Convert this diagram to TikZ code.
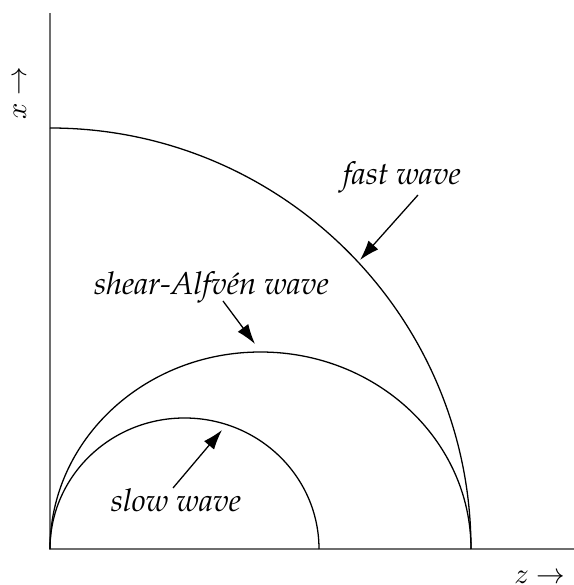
\documentclass[tikz,border=0pt]{standalone}
\usetikzlibrary{arrows.meta}
\definecolor{axisgray}{HTML}{6E6E6E}
\tikzset{axis/.style={draw=axisgray,line width=0.7pt}, wave/.style={draw=black,line width=0.45pt}, wavelbl/.style={font={\fontencoding{T1}\fontfamily{ppl}\fontshape{it}\fontsize{11}{13}\selectfont},inner sep=1pt}, axlbl/.style={font=\normalsize,inner sep=1pt}, arr/.style={-{Latex[length=7pt,width=4.6pt]},line width=0.45pt}}

\begin{document}
\begin{tikzpicture}[x=0.35pt,y=0.35pt]
\useasboundingbox (-50,-36) rectangle (524,549);
% axes
\coordinate (o) at (0,0);
\coordinate (zend) at (524,0);
\coordinate (xend) at (0,536);
\draw[axis] (xend) -- (o) -- (zend);
\node[axlbl] (zlbl) at (490,-28) {$z \rightarrow$};
\node[axlbl,rotate=90] (xlbl) at (-30,456) {$x \rightarrow$};
% wave curves
\draw[wave] (421,0) arc[start angle=0,end angle=90,radius=421];
\draw[wave] (421,0) arc[start angle=0,end angle=180,x radius=210.5,y radius=197];
\draw[wave] (269,0) arc[start angle=0,end angle=180,x radius=134.5,y radius=131];
% labels
\node[wavelbl] (fastlbl) at (352,372) {fast wave};
\node[wavelbl] (shearlbl) at (161.5,262) {shear-Alfv\'en wave};
\node[wavelbl] (slowlbl) at (126,49) {slow wave};
\coordinate (fastfrom) at (368,354);
\coordinate (fastto) at (310,289);
\coordinate (shearfrom) at (173,248);
\coordinate (shearto) at (205,205);
\coordinate (slowfrom) at (123,61);
\coordinate (slowto) at (172,119);
\draw[arr] (fastfrom) -- (fastto);
\draw[arr] (shearfrom) -- (shearto);
\draw[arr] (slowfrom) -- (slowto);
\end{tikzpicture}
\end{document}
